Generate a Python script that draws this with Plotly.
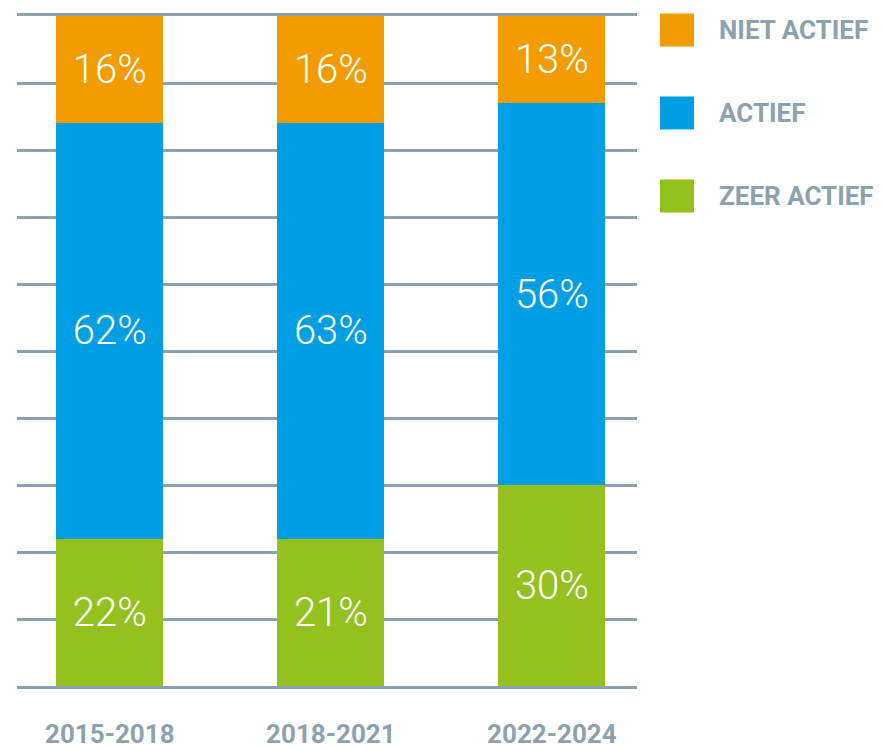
import plotly.graph_objects as go

categories = ["2015-2018", "2018-2021", "2022-2024"]
series_names = ["ZEER ACTIEF", "ACTIEF", "NIET ACTIEF"]
zeer_actief = [22, 22, 30]
actief = [62, 62, 57]
niet_actief = [16, 16, 13]
zeer_actief_labels = ["22%", "21%", "30%"]
actief_labels = ["62%", "63%", "56%"]
niet_actief_labels = ["16%", "16%", "13%"]
colors = ["#95C11F", "#009FE3", "#F39C00"]
y_ticks = list(range(0, 101, 10))

values = [zeer_actief, actief, niet_actief]
labels = [zeer_actief_labels, actief_labels, niet_actief_labels]

GRAY = "#8BA2B0"

fig = go.Figure()
for name, vals, labs, col in zip(series_names, values, labels, colors):
    fig.add_trace(go.Bar(
        x=categories, y=vals, name=name, text=labs,
        texttemplate="%{text}", textposition="inside", insidetextanchor="middle",
        textangle=0,
        textfont=dict(family="Roboto", size=40, color="white", weight=300),
        marker=dict(color=col, line=dict(width=0)),
        width=0.484, showlegend=False, hoverinfo="skip",
    ))

# page has an 8px body margin; work in page pixels and convert
OFF = 8
W, H = 884 - OFF, 749 - OFF
ml, mr, mt, mb = 17 - OFF, 247, 16 - OFF, 63
pw, ph = W - ml - mr, H - mt - mb
def px_x(x):
    return (x - OFF - ml) / pw
def px_y(y):
    return (H + OFF - mb - y) / ph

shapes = []
annotations = []
for i, (name, col) in enumerate(zip(series_names[::-1], colors[::-1])):
    cy = 30 + 83 * i
    shapes.append(dict(type="rect", xref="paper", yref="paper",
                       x0=px_x(660), x1=px_x(694), y0=px_y(cy + 16.5), y1=px_y(cy - 16.5),
                       fillcolor=col, line=dict(width=0)))
    annotations.append(dict(xref="paper", yref="paper", x=px_x(717), y=px_y(cy),
                            xanchor="left", yanchor="middle", showarrow=False, text=name,
                            font=dict(family="Roboto", size=26, color=GRAY, weight="bold")))

fig.update_layout(
    width=W, height=H,
    margin=dict(l=ml, r=mr, t=mt, b=mb, autoexpand=False),
    barmode="stack",
    plot_bgcolor="white", paper_bgcolor="white",
    shapes=shapes, annotations=annotations,
    xaxis=dict(type="category", range=[-0.42, 2.385], showgrid=False,
               showline=True, mirror=True, linecolor=GRAY, linewidth=2.5,
               zeroline=False, ticks="", ticklabelstandoff=23, automargin=False,
               tickfont=dict(family="Roboto", size=26, color=GRAY, weight="bold")),
    yaxis=dict(range=[0, 100], tickvals=y_ticks, showticklabels=False, showgrid=True,
               gridcolor=GRAY, gridwidth=2.5, zeroline=False, showline=False,
               automargin=False),
)

fig.write_html("out.html")
